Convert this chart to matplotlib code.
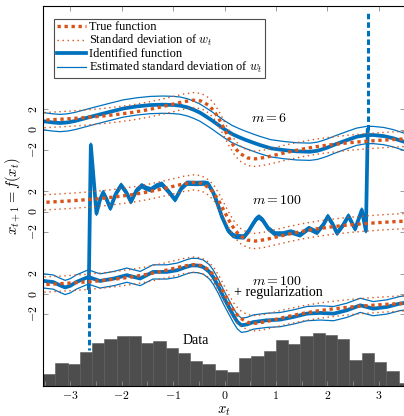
import numpy as np
import matplotlib
matplotlib.use("Agg")
import matplotlib.pyplot as plt

plt.rcParams['font.family'] = ['Liberation Serif', 'DejaVu Serif']
plt.rcParams['mathtext.fontset'] = 'cm'

BLUE = '#0072BD'
ORANGE = '#D95319'

# true function (same in all three panels)
true_x = [-3.6, -3.3, -3.0, -2.7, -2.4, -2.1, -1.8, -1.5, -1.2, -1.0, -0.8, -0.6,
          -0.45, -0.3, -0.2, -0.1, 0.0, 0.1, 0.2, 0.3, 0.45, 0.6, 0.8, 1.0,
          1.2, 1.5, 1.8, 2.1, 2.4, 2.7, 3.0, 3.3, 3.6]
true_y = [0.90, 0.98, 1.07, 1.18, 1.31, 1.48, 1.68, 1.94, 2.26, 2.50, 2.74, 2.89,
          2.80, 2.36, 1.79, 0.97, 0.0, -0.97, -1.79, -2.36, -2.80, -2.89, -2.74, -2.50,
          -2.26, -1.94, -1.68, -1.48, -1.31, -1.18, -1.07, -0.98, -0.90]
true_std = 0.75

# identified function, m = 6
m6_x = [-3.55, -3.35, -3.2, -3.05, -2.9, -2.62, -2.3, -1.97, -1.7, -1.45, -1.2, -1.0, -0.86,
        -0.72, -0.6, -0.48, -0.38, -0.25, -0.12, 0.0, 0.15, 0.28, 0.4, 0.55, 0.69, 0.9, 1.14,
        1.4, 1.66, 1.8, 1.9, 2.0, 2.12, 2.35, 2.57, 2.75, 2.89, 3.1, 3.28, 3.55]
m6_y = [0.84, 0.70, 0.64, 0.70, 0.85, 1.23, 1.65, 2.07, 2.28, 2.41, 2.45, 2.42, 2.35,
        2.18, 1.95, 1.67, 1.35, 0.92, 0.45, 0.02, -0.45, -0.75, -1.0, -1.28, -1.53, -1.85, -2.02,
        -2.15, -2.19, -2.1, -1.95, -1.78, -1.53, -1.10, -0.71, -0.55, -0.54, -0.65, -0.86, -1.30]
m6_std = 0.85

# identified function, m = 100
m100_x = [-2.64, -2.60, -2.49, -2.42, -2.36, -2.30, -2.22, -2.12, -2.01, -1.91, -1.82,
          -1.71, -1.61, -1.52, -1.43, -1.32, -1.22, -1.09, -0.96, -0.84, -0.73, -0.54,
          -0.40, -0.32, -0.22, -0.15, -0.05, 0.07, 0.17, 0.24, 0.38, 0.47, 0.56, 0.62,
          0.67, 0.74, 0.85, 0.98, 1.14, 1.29, 1.47, 1.64, 1.80, 1.92, 2.01, 2.10, 2.19,
          2.31, 2.41, 2.54, 2.67, 2.75, 2.785]
m100_y = [-7.52, 6.57, -0.16, 1.2, 1.89, 1.3, 0.34, 1.7, 2.61, 1.9, 0.99,
          2.1, 2.56, 2.3, 2.17, 2.55, 2.72, 2.0, 1.18, 2.3, 2.81, 2.78,
          2.82, 2.75, 1.9, 0.99, -0.49, -1.84, -2.35, -2.45, -2.48, -1.9, -1.15, -0.7,
          -0.52, -0.8, -1.65, -2.18, -2.18, -1.99, -2.28, -1.65, -2.04, -1.3, -0.47, -1.2, -2.12,
          -1.3, -0.42, -1.70, 0.17, -1.88, 8.05]
m100_std = 0.2

# identified function, m = 100 + regularization
reg_x = [-3.55, -3.33, -3.20, -3.10, -3.00, -2.88, -2.65, -2.42, -2.15, -1.90, -1.64, -1.39,
         -1.12, -0.92, -0.75, -0.64, -0.52, -0.41, -0.30, -0.22, -0.12, -0.02, 0.08, 0.17,
         0.25, 0.33, 0.44, 0.56, 0.82, 1.08, 1.34, 1.60, 1.86, 2.12, 2.38, 2.64, 2.89,
         3.16, 3.41, 3.55]
reg_y = [1.30, 1.17, 0.85, 0.64, 0.80, 1.18, 1.67, 1.28, 1.52, 1.85, 1.52, 2.17,
         2.17, 2.34, 2.65, 2.81, 2.80, 2.64, 2.2, 1.67, 0.75, -0.30, -1.25, -2.10,
         -2.75, -3.09, -3.0, -2.77, -2.60, -2.53, -2.27, -1.94, -1.87, -1.94, -1.61, -1.12, -1.45,
         -1.28, -0.95, -0.85]
reg_std = 0.7

# where the m = 100 fit runs off its panel (dashed continuation)
overflow_x = [-2.64, 2.785]
overflow_from = [-7.52, 8.05]
overflow_to = [-13.63, 19.7]

# histogram of the data
hist_start = -3.53
hist_width = 0.2384
hist_counts = [12, 23, 22, 34, 43, 47, 50, 50, 43, 45, 38, 33, 25, 22, 16,
               14, 28, 30, 35, 46, 42, 50, 53, 51, 47, 26, 33, 24, 15, 3]

offsets = [8.1, 0.0, -8.1]
panels = [(m6_x, m6_y, m6_std), (m100_x, m100_y, m100_std), (reg_x, reg_y, reg_std)]
ylo, yhi = -17.17, 20.27
hist_scale = 0.0985

fig = plt.figure(figsize=(4.04, 4.16), dpi=100)
ax = fig.add_axes([43 / 404, 30 / 416, 362 / 404, 380 / 416])

# histogram at the bottom
edges = hist_start + hist_width * np.arange(len(hist_counts))
ax.bar(edges, np.array(hist_counts) * hist_scale, width=hist_width, align='edge',
       bottom=ylo, color='#4d4d4d', edgecolor='#5a5a5a', linewidth=0.4, zorder=1)

tx = np.array(true_x)
ty = np.array(true_y)
for i, (off, (px, py, sd)) in enumerate(zip(offsets, panels)):
    px = np.array(px)
    py = np.array(py)
    first = i == 0
    ax.plot(px, py + off + sd, color=BLUE, lw=0.9, zorder=2,
            label='Estimated standard deviation of $w_t$' if first else None)
    ax.plot(px, py + off - sd, color=BLUE, lw=0.9, zorder=2)
    ax.plot(px, py + off, color=BLUE, lw=2.7, zorder=2.2, solid_joinstyle='round',
            label='Identified function' if first else None)
    ax.plot(tx, ty + off + true_std, color=ORANGE, lw=1.0, ls=(0, (1, 2.6)), zorder=3,
            label='Standard deviation of $w_t$' if first else None)
    ax.plot(tx, ty + off - true_std, color=ORANGE, lw=1.0, ls=(0, (1, 2.6)), zorder=3)
    ax.plot(tx, ty + off, color=ORANGE, lw=2.4, ls=(0, (1, 1.1)), zorder=3.1,
            label='True function' if first else None)

for x, y0, y1 in zip(overflow_x, overflow_from, overflow_to):
    ax.plot([x, x], [y0, y1], color=BLUE, lw=2.2, ls=(0, (1.8, 1.0)), zorder=2)

ax.text(0.875, 9.23, '$m = 6$', fontsize=10, ha='center', va='center')
ax.text(1.02, 1.15, '$m = 100$', fontsize=10, ha='center', va='center')
ax.text(1.02, -6.85, '$m = 100$', fontsize=10, ha='center', va='center')
ax.text(1.04, -8.0, '+ regularization', fontsize=10, ha='center', va='center')
ax.text(-0.56, -12.7, 'Data', fontsize=10, ha='center', va='center')

ax.set_xlim(-3.53, 3.51)
ax.set_ylim(ylo, yhi)

ax.set_xticks([-3, -2, -1, 0, 1, 2, 3])
ax.set_xticklabels(['$-3$', '$-2$', '$-1$', '$0$', '$1$', '$2$', '$3$'], fontsize=8.5)
ax.set_xticks([-3.5, -2.5, -1.5, -0.5, 0.5, 1.5, 2.5, 3.5], minor=True)

yt = []
yl = []
for off in offsets:
    yt += [off - 2, off, off + 2]
    yl += ['$-2$', '$0$', '$2$']
ax.set_yticks(yt)
ax.set_yticklabels(yl, fontsize=8.5, rotation=90, va='center')

ax.tick_params(which='both', direction='in', length=3.4, width=0.6, color='0.55',
               top=True, right=True, labelcolor='black')
ax.tick_params(axis='x', which='minor', top=False)
ax.tick_params(axis='y', pad=2.5)
ax.tick_params(axis='x', pad=3)
for s in ax.spines.values():
    s.set_linewidth(0.8)

ax.set_xlabel('$x_t$', fontsize=10.5, labelpad=2)
ax.set_ylabel('$x_{t+1} = f(x_t)$', fontsize=10.5, labelpad=3)

handles, labels = ax.get_legend_handles_labels()
order = [labels.index(l) for l in ['True function', 'Standard deviation of $w_t$',
                                   'Identified function', 'Estimated standard deviation of $w_t$']]
leg = ax.legend([handles[k] for k in order], [labels[k] for k in order],
                loc='upper left', bbox_to_anchor=(0.031, 0.9666), borderaxespad=0,
                fontsize=8.9, handlelength=2.4, handletextpad=0.2, labelspacing=0.0,
                borderpad=0.2, fancybox=False, framealpha=1, edgecolor='0.3')
leg.get_frame().set_linewidth(0.8)

fig.savefig('out.png', dpi=100)
